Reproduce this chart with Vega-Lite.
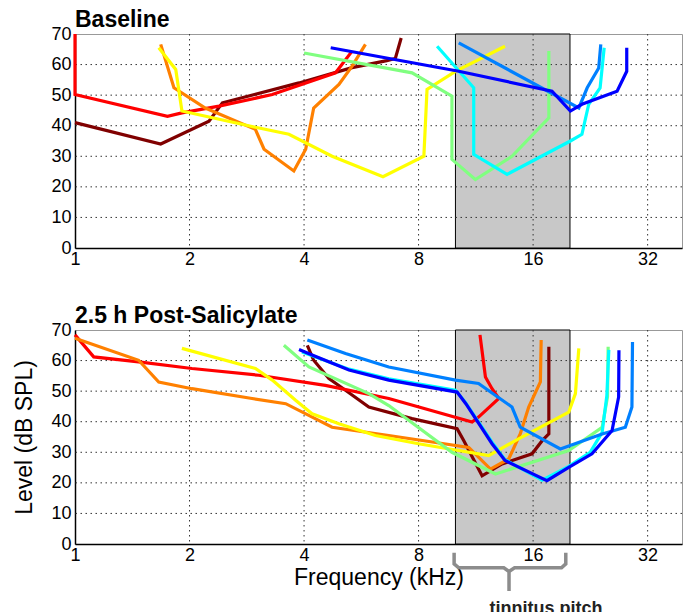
{
  "$schema": "https://vega.github.io/schema/vega-lite/v6.json",
  "padding": {"left": 13, "top": 8, "right": 0, "bottom": 0},
  "config": {
    "font": "Liberation Sans",
    "view": {"stroke": "#999"},
    "axis": {"domainColor": "#000", "domainWidth": 1.5, "labelColor": "#000", "titleColor": "#000", "grid": false, "ticks": false, "labelFontSize": 18, "titleFontSize": 23, "titleFontWeight": "normal", "labelPadding": 4, "labelFlush": false, "labelOverlap": false},
    "axisX": {"labelPadding": 2},
    "title": {"anchor": "start", "frame": "group", "fontSize": 23, "fontWeight": "bold", "offset": -7, "color": "#000"},
    "concat": {"spacing": 35}
  },
  "datasets": {
    "gridx": [{"g": 2}, {"g": 4}, {"g": 8}, {"g": 16}, {"g": 32}],
    "gridy": [{"g": 10}, {"g": 20}, {"g": 30}, {"g": 40}, {"g": 50}, {"g": 60}],
    "band": [{"lo": 10, "hi": 20}],
    "baseline": [
      {"curve": "u1", "seq": 1, "freq": 1.0, "level": 41},
      {"curve": "u1", "seq": 2, "freq": 1.68, "level": 34},
      {"curve": "u1", "seq": 3, "freq": 2.25, "level": 41.5},
      {"curve": "u1", "seq": 4, "freq": 2.44, "level": 47.5},
      {"curve": "u1", "seq": 5, "freq": 3.88, "level": 54},
      {"curve": "u1", "seq": 6, "freq": 5.35, "level": 59},
      {"curve": "u1", "seq": 7, "freq": 6.6, "level": 61.3},
      {"curve": "u1", "seq": 8, "freq": 6.95, "level": 62},
      {"curve": "u1", "seq": 9, "freq": 7.2, "level": 68.7},
      {"curve": "u2", "seq": 1, "freq": 1.0, "level": 70},
      {"curve": "u2", "seq": 2, "freq": 1.0, "level": 50.2},
      {"curve": "u2", "seq": 3, "freq": 1.75, "level": 43.1},
      {"curve": "u2", "seq": 4, "freq": 1.91, "level": 44.2},
      {"curve": "u2", "seq": 5, "freq": 2.39, "level": 46.4},
      {"curve": "u2", "seq": 6, "freq": 3.3, "level": 50.2},
      {"curve": "u2", "seq": 7, "freq": 4.84, "level": 57.3},
      {"curve": "u2", "seq": 8, "freq": 5.35, "level": 64.4},
      {"curve": "u3", "seq": 1, "freq": 1.68, "level": 66.6},
      {"curve": "u3", "seq": 2, "freq": 1.82, "level": 52.4},
      {"curve": "u3", "seq": 3, "freq": 2.2, "level": 45.8},
      {"curve": "u3", "seq": 4, "freq": 2.98, "level": 38.8},
      {"curve": "u3", "seq": 5, "freq": 3.14, "level": 32.3},
      {"curve": "u3", "seq": 6, "freq": 3.76, "level": 25.2},
      {"curve": "u3", "seq": 7, "freq": 4.04, "level": 32.3},
      {"curve": "u3", "seq": 8, "freq": 4.24, "level": 45.8},
      {"curve": "u3", "seq": 9, "freq": 4.94, "level": 53.5},
      {"curve": "u3", "seq": 10, "freq": 5.35, "level": 59.5},
      {"curve": "u3", "seq": 11, "freq": 5.8, "level": 66.6},
      {"curve": "u4", "seq": 1, "freq": 1.66, "level": 65.5},
      {"curve": "u4", "seq": 2, "freq": 1.84, "level": 58.4},
      {"curve": "u4", "seq": 3, "freq": 1.91, "level": 44.8},
      {"curve": "u4", "seq": 4, "freq": 2.98, "level": 39.5},
      {"curve": "u4", "seq": 5, "freq": 3.65, "level": 37.2},
      {"curve": "u4", "seq": 6, "freq": 4.74, "level": 30},
      {"curve": "u4", "seq": 7, "freq": 6.45, "level": 23.3},
      {"curve": "u4", "seq": 8, "freq": 8.26, "level": 30},
      {"curve": "u4", "seq": 9, "freq": 8.42, "level": 51.9},
      {"curve": "u4", "seq": 10, "freq": 10.0, "level": 57.8},
      {"curve": "u4", "seq": 11, "freq": 13.5, "level": 66},
      {"curve": "u5", "seq": 1, "freq": 4.0, "level": 63.8},
      {"curve": "u5", "seq": 2, "freq": 7.69, "level": 57.3},
      {"curve": "u5", "seq": 3, "freq": 9.79, "level": 49.7},
      {"curve": "u5", "seq": 4, "freq": 9.79, "level": 29},
      {"curve": "u5", "seq": 5, "freq": 11.28, "level": 22.4},
      {"curve": "u5", "seq": 6, "freq": 14.08, "level": 30},
      {"curve": "u5", "seq": 7, "freq": 17.6, "level": 42.6},
      {"curve": "u5", "seq": 8, "freq": 17.6, "level": 64.4},
      {"curve": "u6", "seq": 1, "freq": 8.95, "level": 66},
      {"curve": "u6", "seq": 2, "freq": 11.17, "level": 52.4},
      {"curve": "u6", "seq": 3, "freq": 11.17, "level": 30.6},
      {"curve": "u6", "seq": 4, "freq": 13.67, "level": 24.1},
      {"curve": "u6", "seq": 5, "freq": 20.05, "level": 35},
      {"curve": "u6", "seq": 6, "freq": 21.5, "level": 37.2},
      {"curve": "u6", "seq": 7, "freq": 22.4, "level": 47},
      {"curve": "u6", "seq": 8, "freq": 24.0, "level": 52.4},
      {"curve": "u6", "seq": 9, "freq": 24.6, "level": 65.5},
      {"curve": "u7", "seq": 1, "freq": 10.2, "level": 67.1},
      {"curve": "u7", "seq": 2, "freq": 21.1, "level": 45.8},
      {"curve": "u7", "seq": 3, "freq": 22.2, "level": 52.4},
      {"curve": "u7", "seq": 4, "freq": 23.8, "level": 58.9},
      {"curve": "u7", "seq": 5, "freq": 24.1, "level": 66.6},
      {"curve": "u8", "seq": 1, "freq": 4.7, "level": 65.5},
      {"curve": "u8", "seq": 2, "freq": 10.2, "level": 57.8},
      {"curve": "u8", "seq": 3, "freq": 17.94, "level": 51.3},
      {"curve": "u8", "seq": 4, "freq": 20.05, "level": 44.8},
      {"curve": "u8", "seq": 5, "freq": 21.5, "level": 47},
      {"curve": "u8", "seq": 6, "freq": 26.6, "level": 51.3},
      {"curve": "u8", "seq": 7, "freq": 28.2, "level": 57.8},
      {"curve": "u8", "seq": 8, "freq": 28.2, "level": 65.5}
    ],
    "post": [
      {"curve": "u1", "seq": 1, "freq": 4.08, "level": 65},
      {"curve": "u1", "seq": 2, "freq": 4.24, "level": 60.1},
      {"curve": "u1", "seq": 3, "freq": 4.65, "level": 54.1},
      {"curve": "u1", "seq": 4, "freq": 5.14, "level": 50.3},
      {"curve": "u1", "seq": 5, "freq": 5.92, "level": 44.8},
      {"curve": "u1", "seq": 6, "freq": 7.69, "level": 41},
      {"curve": "u1", "seq": 7, "freq": 10.1, "level": 37.7},
      {"curve": "u1", "seq": 8, "freq": 10.52, "level": 33.8},
      {"curve": "u1", "seq": 9, "freq": 11.75, "level": 22.3},
      {"curve": "u1", "seq": 10, "freq": 13.26, "level": 26.2},
      {"curve": "u1", "seq": 11, "freq": 15.9, "level": 29.5},
      {"curve": "u1", "seq": 12, "freq": 16.9, "level": 33.8},
      {"curve": "u1", "seq": 13, "freq": 17.6, "level": 36},
      {"curve": "u1", "seq": 14, "freq": 17.6, "level": 64.5},
      {"curve": "u2", "seq": 1, "freq": 1.0, "level": 68.4},
      {"curve": "u2", "seq": 2, "freq": 1.12, "level": 61.2},
      {"curve": "u2", "seq": 3, "freq": 1.47, "level": 59.6},
      {"curve": "u2", "seq": 4, "freq": 2.03, "level": 57.4},
      {"curve": "u2", "seq": 5, "freq": 3.04, "level": 55.2},
      {"curve": "u2", "seq": 6, "freq": 4.55, "level": 51.9},
      {"curve": "u2", "seq": 7, "freq": 6.68, "level": 47.6},
      {"curve": "u2", "seq": 8, "freq": 11.06, "level": 39.9},
      {"curve": "u2", "seq": 9, "freq": 11.5, "level": 41.5},
      {"curve": "u2", "seq": 10, "freq": 13.0, "level": 47.6},
      {"curve": "u2", "seq": 11, "freq": 12.48, "level": 50.8},
      {"curve": "u2", "seq": 12, "freq": 11.99, "level": 54.6},
      {"curve": "u2", "seq": 13, "freq": 11.6, "level": 68.4},
      {"curve": "u3", "seq": 1, "freq": 1.0, "level": 67.3},
      {"curve": "u3", "seq": 2, "freq": 1.47, "level": 60.1},
      {"curve": "u3", "seq": 3, "freq": 1.66, "level": 53},
      {"curve": "u3", "seq": 4, "freq": 2.03, "level": 50.8},
      {"curve": "u3", "seq": 5, "freq": 2.92, "level": 47.6},
      {"curve": "u3", "seq": 6, "freq": 3.58, "level": 45.9},
      {"curve": "u3", "seq": 7, "freq": 4.74, "level": 38.2},
      {"curve": "u3", "seq": 8, "freq": 6.68, "level": 35.5},
      {"curve": "u3", "seq": 9, "freq": 10.84, "level": 31.6},
      {"curve": "u3", "seq": 10, "freq": 12.36, "level": 24.5},
      {"curve": "u3", "seq": 11, "freq": 13.8, "level": 27.8},
      {"curve": "u3", "seq": 12, "freq": 14.8, "level": 36},
      {"curve": "u3", "seq": 13, "freq": 15.58, "level": 44.8},
      {"curve": "u3", "seq": 14, "freq": 16.72, "level": 53},
      {"curve": "u3", "seq": 15, "freq": 16.8, "level": 66.7},
      {"curve": "u4", "seq": 1, "freq": 1.91, "level": 64},
      {"curve": "u4", "seq": 2, "freq": 2.98, "level": 57.4},
      {"curve": "u4", "seq": 3, "freq": 3.3, "level": 53.6},
      {"curve": "u4", "seq": 4, "freq": 3.8, "level": 47},
      {"curve": "u4", "seq": 5, "freq": 4.2, "level": 42.6},
      {"curve": "u4", "seq": 6, "freq": 4.94, "level": 39.3},
      {"curve": "u4", "seq": 7, "freq": 6.16, "level": 35.5},
      {"curve": "u4", "seq": 8, "freq": 8.0, "level": 32.8},
      {"curve": "u4", "seq": 9, "freq": 12.23, "level": 28.9},
      {"curve": "u4", "seq": 10, "freq": 14.37, "level": 33.8},
      {"curve": "u4", "seq": 11, "freq": 19.85, "level": 43.1},
      {"curve": "u4", "seq": 12, "freq": 20.67, "level": 49.2},
      {"curve": "u4", "seq": 13, "freq": 21.1, "level": 64},
      {"curve": "u5", "seq": 1, "freq": 3.54, "level": 65},
      {"curve": "u5", "seq": 2, "freq": 4.12, "level": 57.9},
      {"curve": "u5", "seq": 3, "freq": 5.92, "level": 49.2},
      {"curve": "u5", "seq": 4, "freq": 6.68, "level": 45.3},
      {"curve": "u5", "seq": 5, "freq": 9.79, "level": 30},
      {"curve": "u5", "seq": 6, "freq": 12.74, "level": 22.9},
      {"curve": "u5", "seq": 7, "freq": 19.85, "level": 30.6},
      {"curve": "u5", "seq": 8, "freq": 24.3, "level": 38.2},
      {"curve": "u5", "seq": 9, "freq": 25.1, "level": 48.1},
      {"curve": "u5", "seq": 10, "freq": 25.2, "level": 64.5},
      {"curve": "u6", "seq": 1, "freq": 3.95, "level": 62.8},
      {"curve": "u6", "seq": 2, "freq": 5.25, "level": 57.2},
      {"curve": "u6", "seq": 3, "freq": 6.68, "level": 54},
      {"curve": "u6", "seq": 4, "freq": 10.0, "level": 50.3},
      {"curve": "u6", "seq": 5, "freq": 10.6, "level": 46.5},
      {"curve": "u6", "seq": 6, "freq": 12.48, "level": 33.3},
      {"curve": "u6", "seq": 7, "freq": 13.5, "level": 27.6},
      {"curve": "u6", "seq": 8, "freq": 16.9, "level": 20.9},
      {"curve": "u6", "seq": 9, "freq": 19.85, "level": 25.4},
      {"curve": "u6", "seq": 10, "freq": 22.6, "level": 30},
      {"curve": "u6", "seq": 11, "freq": 24.3, "level": 36.5},
      {"curve": "u6", "seq": 12, "freq": 25.0, "level": 48.5},
      {"curve": "u6", "seq": 13, "freq": 25.3, "level": 63.5},
      {"curve": "u7", "seq": 1, "freq": 4.08, "level": 66.7},
      {"curve": "u7", "seq": 2, "freq": 5.14, "level": 62.3},
      {"curve": "u7", "seq": 3, "freq": 6.68, "level": 57.9},
      {"curve": "u7", "seq": 4, "freq": 10.0, "level": 53.6},
      {"curve": "u7", "seq": 5, "freq": 11.5, "level": 52.5},
      {"curve": "u7", "seq": 6, "freq": 14.08, "level": 44.8},
      {"curve": "u7", "seq": 7, "freq": 14.8, "level": 38.2},
      {"curve": "u7", "seq": 8, "freq": 18.87, "level": 31.1},
      {"curve": "u7", "seq": 9, "freq": 24.3, "level": 36},
      {"curve": "u7", "seq": 10, "freq": 27.96, "level": 38.2},
      {"curve": "u7", "seq": 11, "freq": 29.1, "level": 44.8},
      {"curve": "u7", "seq": 12, "freq": 29.2, "level": 66.1},
      {"curve": "u8", "seq": 1, "freq": 3.88, "level": 63.6},
      {"curve": "u8", "seq": 2, "freq": 4.2, "level": 61.8},
      {"curve": "u8", "seq": 3, "freq": 5.25, "level": 56.9},
      {"curve": "u8", "seq": 4, "freq": 6.68, "level": 53.6},
      {"curve": "u8", "seq": 5, "freq": 10.1, "level": 49.7},
      {"curve": "u8", "seq": 6, "freq": 10.65, "level": 45.9},
      {"curve": "u8", "seq": 7, "freq": 12.48, "level": 32.8},
      {"curve": "u8", "seq": 8, "freq": 13.5, "level": 27.3},
      {"curve": "u8", "seq": 9, "freq": 17.4, "level": 20.7},
      {"curve": "u8", "seq": 10, "freq": 19.85, "level": 25.1},
      {"curve": "u8", "seq": 11, "freq": 22.85, "level": 29.5},
      {"curve": "u8", "seq": 12, "freq": 25.8, "level": 37.1},
      {"curve": "u8", "seq": 13, "freq": 26.85, "level": 48.1},
      {"curve": "u8", "seq": 14, "freq": 26.9, "level": 63.4}
    ],
    "brace": [
      {"seq": 1, "freq": 9.92, "level": -2.9},
      {"seq": 2, "freq": 9.92, "level": -6.5},
      {"seq": 3, "freq": 10.2, "level": -7.8},
      {"seq": 4, "freq": 13.4, "level": -7.8},
      {"seq": 5, "freq": 13.83, "level": -9.0},
      {"seq": 6, "freq": 13.83, "level": -15.4},
      {"seq": 7, "freq": 13.83, "level": -9.0},
      {"seq": 8, "freq": 14.3, "level": -7.8},
      {"seq": 9, "freq": 19.0, "level": -7.8},
      {"seq": 10, "freq": 19.5, "level": -6.5},
      {"seq": 11, "freq": 19.5, "level": -2.9}
    ],
    "label": [{"freq": 17.3, "level": -23, "text": "tinnitus pitch"}]
  },
  "vconcat": [
    {
      "title": "Baseline",
      "width": 607,
      "height": 214,
      "layer": [
        {"data": {"name": "band"}, "mark": {"type": "rect", "fill": "#c8c8c8", "stroke": "#000", "strokeWidth": 1},
         "encoding": {"x": {"field": "lo", "type": "quantitative", "scale": {"type": "log", "domain": [1, 39.4], "nice": false}, "axis": {"values": [1, 2, 4, 8, 16, 32], "format": "d", "title": null}}, "x2": {"field": "hi"}}},
        {"data": {"name": "gridx"}, "mark": {"type": "rule", "strokeDash": [1.5, 3.5], "color": "#333", "strokeWidth": 1}, "encoding": {"x": {"field": "g", "type": "quantitative", "axis": {"values": [1, 2, 4, 8, 16, 32], "format": "d", "title": null}}}},
        {"data": {"name": "gridy"}, "mark": {"type": "rule", "strokeDash": [1.5, 3.5], "color": "#333", "strokeWidth": 1}, "encoding": {"y": {"field": "g", "type": "quantitative", "scale": {"domain": [0, 70], "nice": false}, "axis": {"values": [0, 10, 20, 30, 40, 50, 60, 70], "title": null}}}},
        {"data": {"name": "baseline"}, "mark": {"type": "line", "strokeWidth": 3.2},
         "encoding": {
           "x": {"field": "freq", "type": "quantitative", "axis": {"values": [1, 2, 4, 8, 16, 32], "format": "d", "title": null}},
           "y": {"field": "level", "type": "quantitative", "scale": {"domain": [0, 70], "nice": false}, "axis": {"values": [0, 10, 20, 30, 40, 50, 60, 70], "title": null}},
           "color": {"field": "curve", "type": "nominal", "scale": {"domain": ["u1", "u2", "u3", "u4", "u5", "u6", "u7", "u8"], "range": ["#800000", "#ff0000", "#ff8000", "#ffff00", "#80ff80", "#00ffff", "#0080ff", "#0000ff"]}, "legend": null},
           "order": {"field": "seq", "type": "quantitative"}
         }}
      ]
    },
    {
      "title": "2.5 h Post-Salicylate",
      "width": 607,
      "height": 214,
      "layer": [
        {"data": {"name": "band"}, "mark": {"type": "rect", "fill": "#c8c8c8", "stroke": "#000", "strokeWidth": 1},
         "encoding": {"x": {"field": "lo", "type": "quantitative", "scale": {"type": "log", "domain": [1, 39.4], "nice": false}, "axis": {"values": [1, 2, 4, 8, 16, 32], "format": "d", "title": "Frequency (kHz)", "titlePadding": 2}}, "x2": {"field": "hi"}}},
        {"data": {"name": "gridx"}, "mark": {"type": "rule", "strokeDash": [1.5, 3.5], "color": "#333", "strokeWidth": 1}, "encoding": {"x": {"field": "g", "type": "quantitative", "axis": {"values": [1, 2, 4, 8, 16, 32], "format": "d", "title": "Frequency (kHz)", "titlePadding": 2}}}},
        {"data": {"name": "gridy"}, "mark": {"type": "rule", "strokeDash": [1.5, 3.5], "color": "#333", "strokeWidth": 1}, "encoding": {"y": {"field": "g", "type": "quantitative", "scale": {"domain": [0, 70], "nice": false}, "axis": {"values": [0, 10, 20, 30, 40, 50, 60, 70], "title": "Level (dB SPL)", "titlePadding": 14}}}},
        {"data": {"name": "post"}, "mark": {"type": "line", "strokeWidth": 3.2},
         "encoding": {
           "x": {"field": "freq", "type": "quantitative", "axis": {"values": [1, 2, 4, 8, 16, 32], "format": "d", "title": "Frequency (kHz)", "titlePadding": 2}},
           "y": {"field": "level", "type": "quantitative", "scale": {"domain": [0, 70], "nice": false}, "axis": {"values": [0, 10, 20, 30, 40, 50, 60, 70], "title": "Level (dB SPL)", "titlePadding": 14}},
           "color": {"field": "curve", "type": "nominal", "scale": {"domain": ["u1", "u2", "u3", "u4", "u5", "u6", "u7", "u8"], "range": ["#800000", "#ff0000", "#ff8000", "#ffff00", "#80ff80", "#00ffff", "#0080ff", "#0000ff"]}, "legend": null},
           "order": {"field": "seq", "type": "quantitative"}
         }},
        {"data": {"name": "brace"}, "mark": {"type": "line", "color": "#8c8c8c", "strokeWidth": 3.5},
         "encoding": {"x": {"field": "freq", "type": "quantitative", "axis": {"values": [1, 2, 4, 8, 16, 32], "format": "d", "title": "Frequency (kHz)", "titlePadding": 2}}, "y": {"field": "level", "type": "quantitative", "axis": {"values": [0, 10, 20, 30, 40, 50, 60, 70], "title": "Level (dB SPL)", "titlePadding": 14}}, "order": {"field": "seq", "type": "quantitative"}}},
        {"data": {"name": "label"}, "mark": {"type": "text", "fontSize": 18, "fontWeight": "bold", "color": "#222", "baseline": "alphabetic", "align": "center"},
         "encoding": {"x": {"field": "freq", "type": "quantitative", "axis": {"values": [1, 2, 4, 8, 16, 32], "format": "d", "title": "Frequency (kHz)", "titlePadding": 2}}, "y": {"field": "level", "type": "quantitative", "axis": {"values": [0, 10, 20, 30, 40, 50, 60, 70], "title": "Level (dB SPL)", "titlePadding": 14}}, "text": {"field": "text"}}}
      ]
    }
  ]
}
